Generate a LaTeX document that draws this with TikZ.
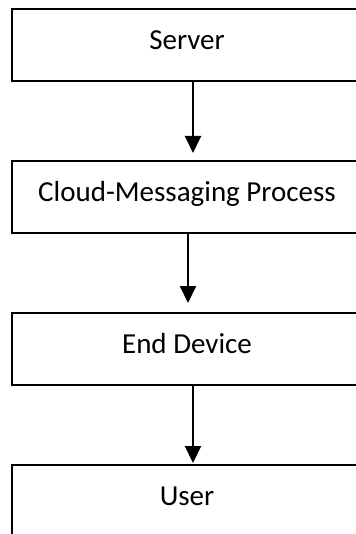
\documentclass[tikz,border=0pt]{standalone}
\usepackage{fontspec}
\setmainfont{Carlito}
\usetikzlibrary{arrows.meta}
\begin{document}
\begin{tikzpicture}[main/.style = {draw, line width=1pt, rectangle, minimum width=175pt, minimum height=36pt, outer sep=0pt, font=\fontsize{14.5}{17}\selectfont, text height=9.3pt, text depth=4.5pt}, flow/.style = {-{Triangle[length=8.5pt, width=8pt]}, line width=1pt}, node distance=76pt]
            \useasboundingbox (0,0) rectangle (178pt,-267pt);
            \node[main] (1) at (93.5pt,-22.5pt) {Server};
            \node[main] (2) [below of=1] {Cloud-Messaging Process};
            \node[main] (3) [below of=2] {End Device};
            \node[main] (4) [below of=3] {User};
            \draw[flow, shorten >=4pt] ([xshift=3pt]1.south) -- ([xshift=3pt]2.north);
            \draw[flow, shorten >=5pt] ([xshift=0.5pt]2.south) -- ([xshift=0.5pt]3.north);
            \draw[flow, shorten >=1pt] ([xshift=3pt]3.south) -- ([xshift=3pt]4.north);
        \end{tikzpicture}
\end{document}
